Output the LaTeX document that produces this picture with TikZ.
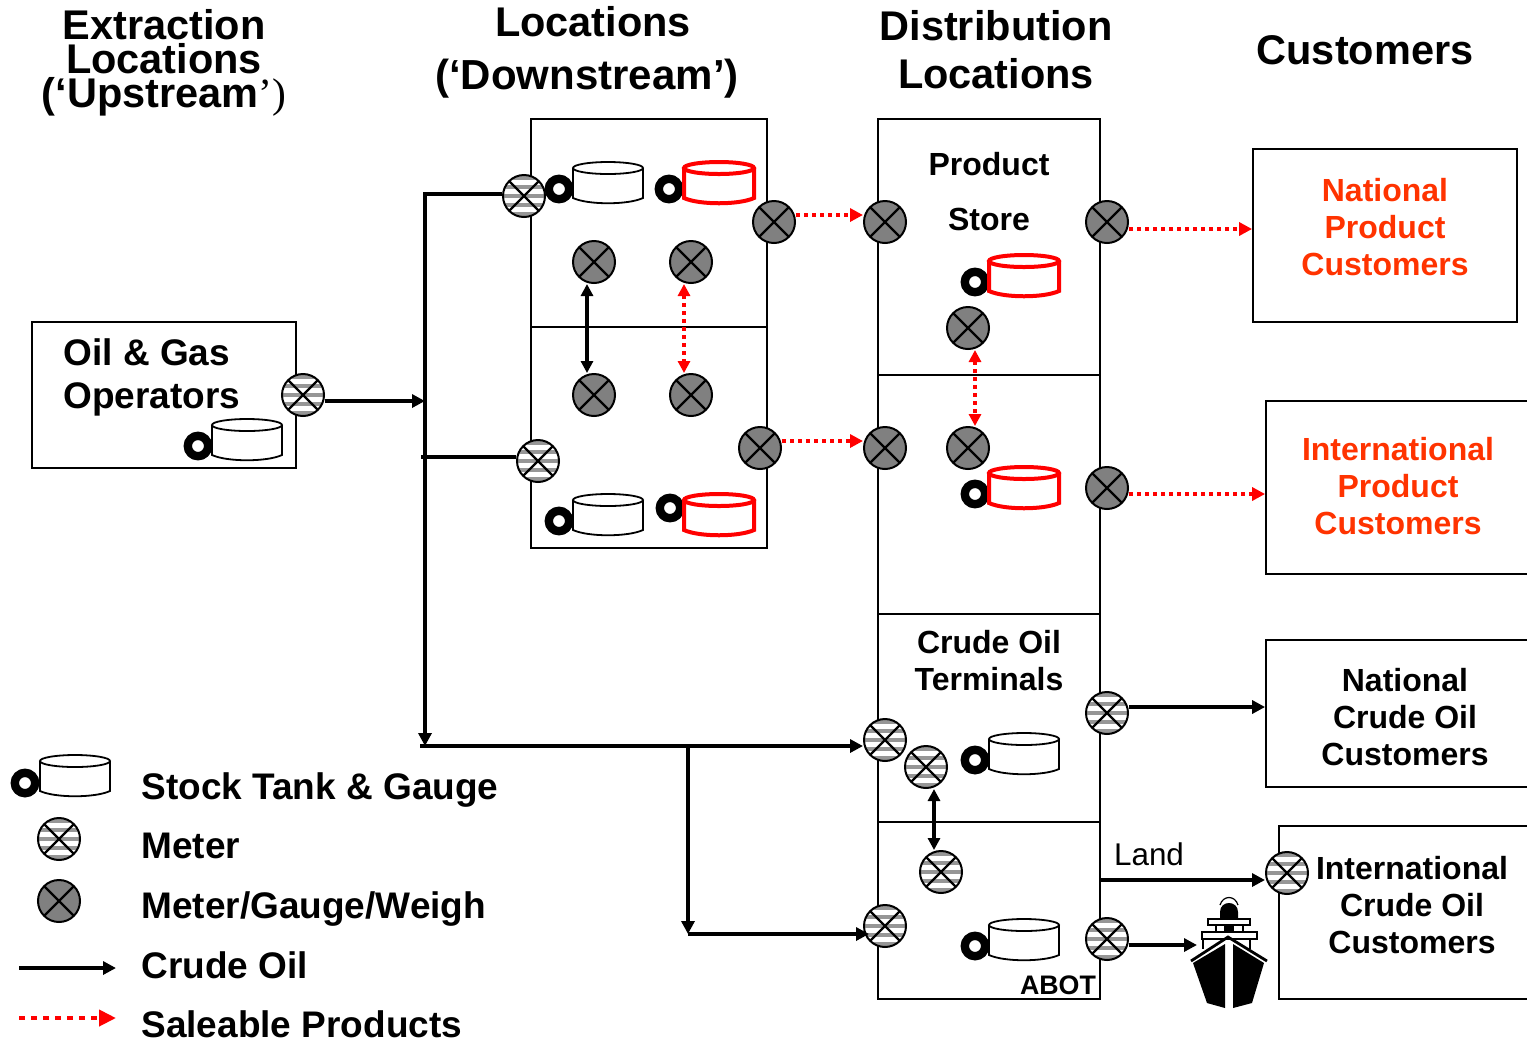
\documentclass[tikz,border=0pt]{standalone}
\usepackage{fontspec}
\setmainfont{Liberation Sans}
\newfontfamily\quotefont{Liberation Serif}
\usepackage{xcolor}
\usetikzlibrary{arrows.meta,positioning}
\definecolor{meterc}{RGB}{128,128,128}
\definecolor{stripec}{RGB}{150,150,150}
\definecolor{prodc}{RGB}{255,51,0}
\tikzset{
  meterbase/.style={circle,draw=black,line width=1pt,minimum size=21pt,inner sep=0pt},
  gmeter/.style={meterbase,fill=meterc,
    path picture={
      \draw[line width=1.1pt] (path picture bounding box.center) +(-8pt,-8pt) -- +(8pt,8pt) +(-8pt,8pt) -- +(8pt,-8pt);
    }},
  smeter/.style={meterbase,fill=white,
    path picture={
      \foreach \k in {-9,-4.5,0,4.5,9}
        \fill[stripec] ([yshift=\k pt-1.2pt]path picture bounding box.west) rectangle ([yshift=\k pt+1.2pt]path picture bounding box.east);
      \draw[line width=1.1pt] (path picture bounding box.center) +(-8pt,-8pt) -- +(8pt,8pt) +(-8pt,8pt) -- +(8pt,-8pt);
    }},
  gring/.style={circle,draw=black,line width=4.2pt,minimum size=10.2pt,inner sep=0pt,fill=white},
  tankbody/.style={fill=white,draw},
  blacktank/.style={line width=0.9pt},
  redtank/.style={red,line width=2pt},
  site/.style={draw=black,line width=0.9pt,inner sep=0pt},
  crude/.style={-{Stealth[length=6.5pt,width=6.5pt,inset=0pt]},line width=1.8pt,black},
  trunk/.style={-{Stealth[length=6.5pt,width=6.5pt,inset=0pt]},line width=2.1pt,black},
  crudeb/.style={{Stealth[length=6pt,width=6pt,inset=0pt]}-{Stealth[length=6pt,width=6pt,inset=0pt]},line width=1.7pt,black},
  saleable/.style={-{Stealth[length=6.5pt,width=6.5pt,inset=0pt]},line width=1.7pt,red,dash pattern=on 2pt off 2pt},
  saleableb/.style={{Stealth[length=6pt,width=6pt,inset=0pt]}-{Stealth[length=6pt,width=6pt,inset=0pt]},line width=1.6pt,red,dash pattern=on 2pt off 2pt},
  heading/.style={font=\fontsize{20.75}{24}\selectfont\bfseries,align=center,inner sep=0pt},
  sitelab/.style={font=\fontsize{16}{18.5}\selectfont\bfseries,align=center,inner sep=0pt},
  legendlab/.style={font=\fontsize{18.5}{21.5}\selectfont\bfseries,inner sep=0pt,anchor=west},
  tank/.pic={
    \draw[tankbody] (-35,-15) -- (-35,15) .. controls (-20,22) and (20,22) .. (35,15) -- (35,-15);
    \draw[tankbody] (0,-15) ellipse [x radius=35,y radius=6];
  },
}
\begin{document}
\begin{tikzpicture}[x=0.5pt,y=-0.5pt]
  \useasboundingbox (0,0) rectangle (1527,1041);

  % headings
  \node[heading,font=\fontsize{20.75}{17}\selectfont\bfseries] (hup) at (164,62.5) {Extraction\\Locations\\(‘Upstream{\quotefont\mdseries ’)}};
  \node[heading] (hdowna) at (593,22) {Locations};
  \node[heading,font=\fontsize{21}{24}\selectfont\bfseries] (hdownb) at (587,79) {(‘Downstream’)};
  \node[heading] (hdist) at (996,50) {Distribution\\Locations};
  \node[heading] (hcust) at (1365,50) {Customers};

  % boxes
  \node[site,minimum width=132pt,minimum height=73pt] (opbox) at (164,395) {};
  \node[site,minimum width=118pt,minimum height=104pt] (upa) at (649,223) {};
  \node[site,minimum width=118pt,minimum height=110.5pt] (upb) at (649,437.5) {};
  \node[site,minimum width=111pt,minimum height=128pt] (dsa) at (989,247) {};
  \node[site,minimum width=111pt,minimum height=119.5pt] (dsb) at (989,494.5) {};
  \node[site,minimum width=111pt,minimum height=104pt] (dsc) at (989,718) {};
  \node[site,minimum width=111pt,minimum height=88.5pt] (dsd) at (989,910.5) {};
  \node[site,minimum width=132pt,minimum height=86.5pt] (npcbox) at (1385,235.5) {};
  \node[site,minimum width=136pt,minimum height=86.5pt] (ipcbox) at (1402,487.5) {};
  \node[site,minimum width=136pt,minimum height=73.5pt] (nccbox) at (1402,713.5) {};
  \node[site,minimum width=130pt,minimum height=86.5pt] (iccbox) at (1409,912.5) {};

  % box texts
  \node[legendlab,align=left] (oplab) at (63,377) {Oil \& Gas\\Operators};
  \node[sitelab,font=\fontsize{16}{27.5}\selectfont\bfseries] (storelab) at (989,191.5) {Product\\Store};
  \node[sitelab] (termlab) at (989,661) {Crude Oil\\Terminals};
  \node[sitelab,text=prodc] (npclab) at (1385,227) {National\\Product\\Customers};
  \node[sitelab,text=prodc] (ipclab) at (1398,486) {International\\Product\\Customers};
  \node[sitelab] (ncclab) at (1405,717) {National\\Crude Oil\\Customers};
  \node[sitelab] (icclab) at (1412,905) {International\\Crude Oil\\Customers};
  \node[inner sep=0pt,font=\fontsize{15.7}{18}\selectfont] (landlab) at (1149,854) {Land};
  \node[inner sep=0pt,font=\fontsize{13.4}{16}\selectfont\bfseries] (abotlab) at (1058,985) {ABOT};

  % tanks
  \foreach \n/\x/\y in {ra/198/446,rb/559/189,rc/669/189,rd/559/521,re/670/508,rf/975/282,rg/975/494,rh/975/760,ri/975/946,rj/25/783}
    \node[gring] (\n) at (\x,\y) {};
  \foreach \x/\y in {247/440,608/183,608/515,1024/754,1024/940,75/776}
    \pic[blacktank] at (\x,\y) {tank};
  \foreach \x/\y in {719/183,719/515,1024/276,1024/488}
    \pic[redtank] at (\x,\y) {tank};

  % meters
  \foreach \n/\x/\y in {gua/774/222,gub/594/262,guc/691/262,gud/594/395,gue/691/395,guf/760/448,
      gda/885/222,gdb/1107/222,gdc/968/328,gdd/968/448,gde/885/448,gdf/1107/488,glg/59/901}
    \node[gmeter] (\n) at (\x,\y) {};
  \foreach \n/\x/\y in {mop/303/395,mua/524/196,mub/538/461,mda/885/740,mdb/926/767,mdc/1107/713,
      mdd/941/872,mde/885/926,mdf/1107/939,mic/1287/873,mlg/59/839}
    \node[smeter] (\n) at (\x,\y) {};

  % crude oil lines
  \coordinate (jop) at (425,401);
  \coordinate (ttop) at (425,194);
  \coordinate (tbot) at (425,746);
  \coordinate (tleft) at (420,746);
  \coordinate (bmid) at (421,457);
  \coordinate (bsplit) at (688,746);
  \coordinate (bbot) at (688,934);
  \coordinate (shipin) at (1197,945);
  \draw[crude] (mop.east |- jop) -- (jop);
  \draw[trunk] (mua.west |- ttop) -- (ttop) -- (tbot);
  \draw[line width=1.8pt] (mub.west |- bmid) -- (bmid);
  \draw[trunk] (tleft) -- (mda.west |- tbot);
  \draw[trunk] (bsplit) -- (bbot);
  \draw[crude] (bbot) -- ([xshift=3pt]mde.west |- bbot);
  \draw[trunk] (mdc.east |- 0,707) -- (nccbox.west |- 0,707);
  \draw[crude] (dsd.east |- 0,880) -- (mic.west |- 0,880);
  \draw[crude] (mdf.east |- shipin) -- (shipin);
  \draw[crudeb] ([xshift=-3.5pt]gub.south) -- ([xshift=-3.5pt]gud.north);
  \draw[crudeb] ([xshift=4pt]mdb.south) -- ([xshift=-3.5pt]mdd.north);

  % saleable product lines
  \draw[saleable] (gua.east |- 0,215) -- (gda.west |- 0,215);
  \draw[saleable] (guf.east |- 0,441) -- (gde.west |- 0,441);
  \draw[saleable] (gdb.east |- 0,229) -- (npcbox.west |- 0,229);
  \draw[saleable] (gdf.east |- 0,494) -- (ipcbox.west |- 0,494);
  \draw[saleableb] ([xshift=-3.5pt]guc.south) -- ([xshift=-3.5pt]gue.north);
  \draw[saleableb] ([xshift=3.5pt]gdc.south) -- ([xshift=3.5pt]gdd.north);

  % ship
  \fill (1193,963) -- (1225,944) -- (1225,1008) -- (1207,1003) -- cycle;
  \fill (1233,944) -- (1264,963) -- (1252,1003) -- (1233,1008) -- cycle;
  \draw[line width=1.4pt] (1191,961) -- (1228,937) -- (1267,961);
  \draw[line width=1.2pt] (1202,939) rectangle (1257,932);
  \draw[line width=1.2pt] (1203,939) -- (1203,949) (1250,939) -- (1250,949);
  \draw[line width=1.2pt] (1208,925) rectangle (1250,919);
  \draw[line width=1.2pt] (1216,925) -- (1216,932) (1243,925) -- (1243,932);
  \fill (1220,919) -- (1220,912) .. controls (1220,900) and (1238,900) .. (1238,912) -- (1238,919) -- cycle;
  \fill (1224,925) rectangle (1234,932);
  \draw[line width=0.6pt] (1220,905) .. controls (1223,895) and (1235,895) .. (1238,905);

  % legend
  \node[legendlab] (lgtank) at (141,790) {Stock Tank \& Gauge};
  \node[legendlab] (lgmeter) at (141,846) {Meter};
  \node[legendlab] (lggauge) at (141,909) {Meter/Gauge/Weigh};
  \node[legendlab] (lgcrude) at (141,965) {Crude Oil};
  \node[legendlab] (lgsale) at (141,1024) {Saleable Products};
  \coordinate (lca) at (19,968);
  \coordinate (lcb) at (116,968);
  \coordinate (lsa) at (19,1018);
  \coordinate (lsb) at (116,1018);
  \draw[crude] (lca) -- (lcb);
  \draw[-{Stealth[length=8.5pt,width=8pt,inset=0pt]},line width=2pt,red,dash pattern=on 3pt off 3pt] (lsa) -- (lsb);
\end{tikzpicture}
\end{document}
